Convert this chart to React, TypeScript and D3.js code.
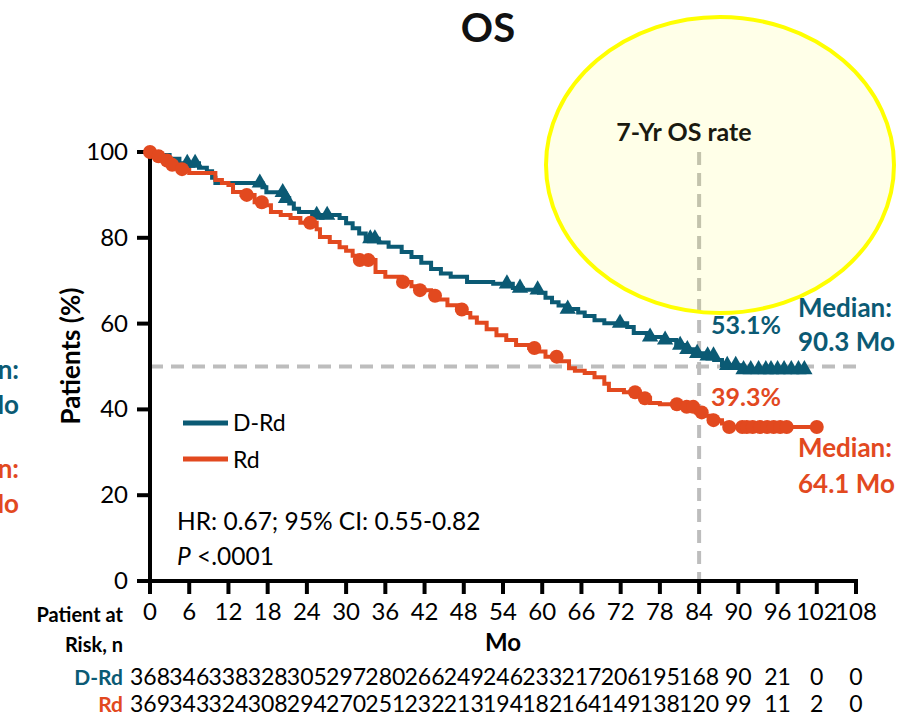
import React from "react";
import * as d3 from "d3";

// ---- data ----
const xTicks = [0, 6, 12, 18, 24, 30, 36, 42, 48, 54, 60, 66, 72, 78, 84, 90, 96, 102, 108];
const yTicks = [0, 20, 40, 60, 80, 100];

// D-Rd KM curve: [month, survival %]
const dRdTimes = [0, 1.5, 3, 4.5, 7.5, 8.7, 9.5, 10, 17.2, 17.8, 20.5, 21.3, 22, 22.8, 24.8, 29, 30, 31, 32, 33, 35, 36.5, 38.5, 40, 41.5, 43, 44.5, 46, 48.5, 52.5, 55.5, 57, 59.5, 60.5, 61.5, 62.5, 63.5, 65.5, 66.5, 68, 69.5, 73, 74, 76, 78.5, 80.5, 82, 83.5, 85, 86.3, 87.5, 90.3, 100.2];
const dRdSurv = [100, 99.3, 98.4, 97.4, 96.3, 95.5, 94, 92.8, 91.8, 90.6, 89.2, 88, 86.8, 86, 85.3, 84.6, 83.4, 82.2, 81, 79.8, 78.9, 77.9, 76.7, 75.5, 74.2, 72.7, 71.7, 70.9, 69.7, 69.3, 68.3, 67.9, 67.2, 66, 65, 64.2, 63.4, 62.6, 61.8, 60.8, 60.1, 59.2, 57.8, 56.9, 56.2, 55, 54, 53.1, 52.5, 51.5, 50.3, 49.3, 49.3];
const dRdCensor = [5.7, 6.9, 16.8, 20.3, 20.8, 25.5, 27.1, 33.7, 34.4, 54.6, 56.6, 59.3, 63.9, 71.9, 76.5, 78.8, 81.1, 82.2, 83.7, 85.3, 86.2, 88.3, 89.6, 90.8, 91.9, 93.1, 94.2, 95, 96, 97, 98.1, 99.2, 100.1];

// Rd KM curve
const rdTimes = [0, 1, 2, 3, 4.5, 6, 10, 11, 12, 12.7, 14, 16, 17.5, 18.5, 20, 21.5, 23, 25.5, 26, 27.5, 29, 30, 31, 32, 34.5, 36, 38.5, 40, 41, 43, 44, 45.5, 47, 48, 49, 50, 51.5, 53, 54.5, 56, 58, 59.5, 60.5, 62.5, 64.1, 65, 66.5, 68, 69.5, 70.2, 72.5, 74.5, 75.5, 76.5, 78, 82, 83.5, 85, 86, 87.5, 88.3, 102];
const rdSurv = [100, 99, 98, 97, 96, 95.1, 93.5, 92.8, 92.3, 90.7, 90, 88.3, 87.6, 86, 85.3, 84.6, 83.5, 82, 80.2, 79, 77.8, 77, 75.8, 74.8, 72, 70.9, 69.7, 68.7, 67.8, 66.5, 65.6, 64.3, 63.3, 62.5, 61.4, 60.2, 58.7, 57.3, 56.2, 55, 54.3, 53.5, 52.3, 51.2, 49.6, 49, 48.5, 47.5, 46, 44.5, 44, 43.4, 42.6, 41.5, 41.2, 40.6, 39.3, 38.5, 37.5, 36.7, 35.9, 35.9];
const rdCensor = [0, 1.3, 2.6, 3.4, 4.9, 14.8, 17.1, 24.5, 32.1, 33.4, 38.7, 41.3, 43.6, 47.7, 58.8, 62.2, 74.2, 75.7, 80.6, 82.1, 83.1, 84.4, 86.2, 88.6, 90.6, 91.3, 92.2, 93.3, 94.4, 95.4, 96.4, 97.4, 102];

const riskDRd = [368, 346, 338, 328, 305, 297, 280, 266, 249, 246, 233, 217, 206, 195, 168, 90, 21, 0, 0];
const riskRd = [369, 343, 324, 308, 294, 270, 251, 232, 213, 194, 182, 164, 149, 138, 120, 99, 11, 2, 0];

const TEAL = "#0b5a74";
const ORANGE = "#e2491f";
const FONT = "Lato, 'Open Sans', sans-serif";

export default function App() {
  const x = d3.scaleLinear().domain([0, 108]).range([150, 856]);
  const y = d3.scaleLinear().domain([0, 100]).range([581, 152]);

  const line = d3
    .line<[number, number]>()
    .x((d) => x(d[0]))
    .y((d) => y(d[1]))
    .curve(d3.curveStepAfter);

  const dRdPts: [number, number][] = dRdTimes.map((t, i) => [t, dRdSurv[i]]);
  const rdPts: [number, number][] = rdTimes.map((t, i) => [t, rdSurv[i]]);

  const survAt = (times: number[], surv: number[], t: number) => {
    const i = d3.bisectRight(times, t) - 1;
    return surv[Math.max(0, i)];
  };

  const tri = d3.symbol().type(d3.symbolTriangle).size(115)()!;

  return (
    <svg
      width={910}
      height={718}
      style={{ position: "absolute", left: 0, top: 0, background: "#fff" }}
      fontFamily={FONT}
    >
      {/* Title */}
      <text x={488} y={42} textAnchor="middle" fontSize={40} fontWeight={700} fill="#111">
        OS
      </text>

      {/* reference dashed lines */}
      <line x1={x(0)} x2={x(108)} y1={y(50)} y2={y(50)} stroke="#bdbdbd" strokeWidth={4} strokeDasharray="13 8" />
      <line x1={x(84)} x2={x(84)} y1={y(100)} y2={y(0)} stroke="#bdbdbd" strokeWidth={4} strokeDasharray="13 8" />

      {/* highlight ellipse */}
      <ellipse cx={720} cy={165} rx={174} ry={148} fill="rgb(255,255,0)" fillOpacity={0.09} stroke="#ffff00" strokeWidth={4} />
      <text x={684} y={141} textAnchor="middle" fontSize={25} fontWeight={700} fill="#1a1a10">
        7-Yr OS rate
      </text>

      {/* axes */}
      <line x1={150} x2={150} y1={y(100) - 2} y2={y(0) + 2} stroke="#000" strokeWidth={4} />
      <line x1={138} x2={x(108) + 2} y1={y(0)} y2={y(0)} stroke="#000" strokeWidth={4} />
      {yTicks.map((t) => (
        <g key={"y" + t}>
          <line x1={137} x2={150} y1={y(t)} y2={y(t)} stroke="#000" strokeWidth={4} />
          <text x={128} y={y(t) + 8} textAnchor="end" fontSize={24} fill="#000">
            {t}
          </text>
        </g>
      ))}
      {xTicks.map((t) => (
        <g key={"x" + t}>
          <line x1={x(t)} x2={x(t)} y1={y(0)} y2={y(0) + 13} stroke="#000" strokeWidth={4} />
          <text x={x(t)} y={620} textAnchor="middle" fontSize={24} fill="#000">
            {t}
          </text>
        </g>
      ))}

      <text
        transform={`translate(80,356) rotate(-90)`}
        textAnchor="middle"
        fontSize={26}
        fontWeight={700}
        fill="#000"
      >
        Patients (%)
      </text>

      {/* curves */}
      <path d={line(dRdPts)!} fill="none" stroke={TEAL} strokeWidth={4} />
      <path d={line(rdPts)!} fill="none" stroke={ORANGE} strokeWidth={4} />
      {dRdCensor.map((t, i) => (
        <path key={"dc" + i} d={tri} transform={`translate(${x(t)},${y(survAt(dRdTimes, dRdSurv, t))})`} fill={TEAL} />
      ))}
      {rdCensor.map((t, i) => (
        <circle key={"rc" + i} cx={x(t)} cy={y(survAt(rdTimes, rdSurv, t))} r={7} fill={ORANGE} />
      ))}

      {/* legend */}
      <line x1={183} x2={228} y1={423} y2={423} stroke={TEAL} strokeWidth={5} />
      <text x={233} y={431} fontSize={23} fill="#000">D-Rd</text>
      <line x1={183} x2={228} y1={459} y2={459} stroke={ORANGE} strokeWidth={5} />
      <text x={233} y={468} fontSize={23} fill="#000">Rd</text>

      <text x={177} y={530} fontSize={24.5} fill="#000">HR: 0.67; 95% CI: 0.55-0.82</text>
      <text x={177} y={565} fontSize={24.5} fill="#000">
        <tspan fontStyle="italic">P</tspan> {"<.0001"}
      </text>

      {/* annotations */}
      <text x={711} y={334} fontSize={25} fontWeight={700} fill={TEAL}>53.1%</text>
      <text x={711} y={406} fontSize={25} fontWeight={700} fill={ORANGE}>39.3%</text>
      <text x={798} y={317} fontSize={26} fontWeight={700} fill={TEAL}>Median:</text>
      <text x={798} y={351} fontSize={26} fontWeight={700} fill={TEAL}>90.3 Mo</text>
      <text x={798} y={457} fontSize={26} fontWeight={700} fill={ORANGE}>Median:</text>
      <text x={798} y={493} fontSize={26} fontWeight={700} fill={ORANGE}>64.1 Mo</text>

      {/* left annotations, partly outside the frame as in the source */}
      <text x={19} y={379} textAnchor="end" fontSize={26} fontWeight={700} fill={TEAL}>Median:</text>
      <text x={19} y={414} textAnchor="end" fontSize={26} fontWeight={700} fill={TEAL}>90.3 Mo</text>
      <text x={19} y={478} textAnchor="end" fontSize={26} fontWeight={700} fill={ORANGE}>Median:</text>
      <text x={19} y={513} textAnchor="end" fontSize={26} fontWeight={700} fill={ORANGE}>64.1 Mo</text>

      {/* risk table */}
      <text x={123} y={622} textAnchor="end" fontSize={20} fontWeight={700} fill="#000">Patient at</text>
      <text x={123} y={652} textAnchor="end" fontSize={20} fontWeight={700} fill="#000">Risk, n</text>
      <text x={503} y={651} textAnchor="middle" fontSize={24} fontWeight={700} fill="#000">Mo</text>
      <text x={123} y={685} textAnchor="end" fontSize={21} fontWeight={700} fill={TEAL}>D-Rd</text>
      <text x={123} y={712} textAnchor="end" fontSize={21} fontWeight={700} fill={ORANGE}>Rd</text>
      {xTicks.map((t, i) => (
        <g key={"r" + t}>
          <text x={x(t)} y={685} textAnchor="middle" fontSize={23} fill="#000">{riskDRd[i]}</text>
          <text x={x(t)} y={712} textAnchor="middle" fontSize={23} fill="#000">{riskRd[i]}</text>
        </g>
      ))}
    </svg>
  );
}
